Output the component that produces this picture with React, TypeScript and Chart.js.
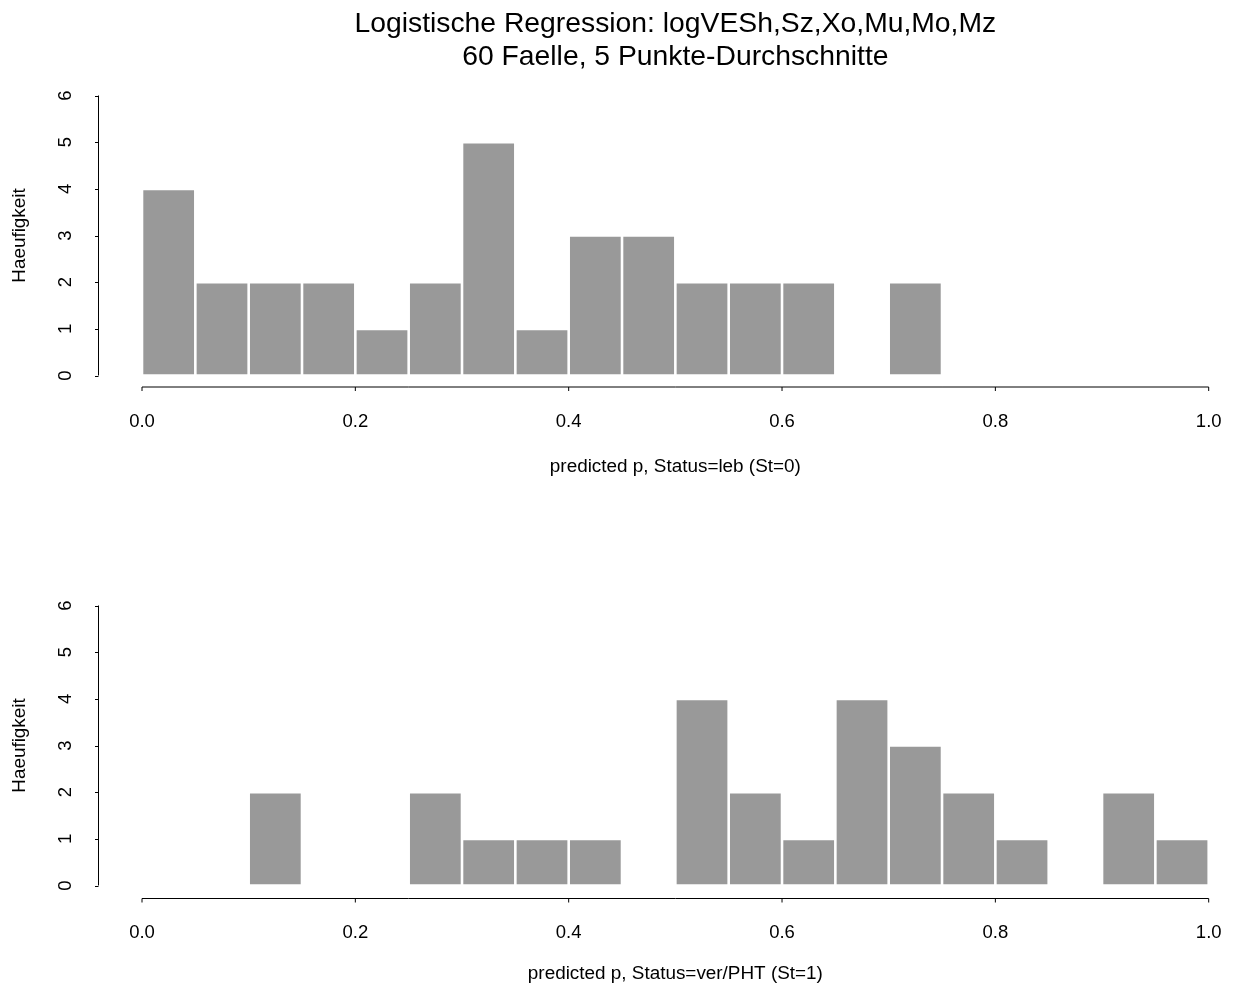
import React, { useEffect, useRef } from 'react';
import { Chart, registerables } from 'chart.js';

Chart.register(...registerables);

const TITLE_LINES = [
  'Logistische Regression: logVESh,Sz,Xo,Mu,Mo,Mz',
  '60 Faelle, 5 Punkte-Durchschnitte',
];
const BREAKS = [
  0.0, 0.05, 0.1, 0.15, 0.2, 0.25, 0.3, 0.35, 0.4, 0.45, 0.5,
  0.55, 0.6, 0.65, 0.7, 0.75, 0.8, 0.85, 0.9, 0.95, 1.0,
];
const COUNTS_ST0 = [4, 2, 2, 2, 1, 2, 5, 1, 3, 3, 2, 2, 2, 0, 2, 0, 0, 0, 0, 0];
const COUNTS_ST1 = [0, 0, 2, 0, 0, 2, 1, 1, 1, 0, 4, 2, 1, 4, 3, 2, 1, 0, 2, 1];
const X_TICKS = [0, 0.2, 0.4, 0.6, 0.8, 1.0];
const Y_TICKS = [0, 1, 2, 3, 4, 5, 6];
const X_LABEL_ST0 = 'predicted p, Status=leb (St=0)';
const X_LABEL_ST1 = 'predicted p, Status=ver/PHT (St=1)';
const Y_LABEL = 'Haeufigkeit';

const FONT = '"Liberation Sans", Arial, Helvetica, sans-serif';
const BAR_FILL = '#999999';

const rAxesPlugin = {
  id: 'rAxes',
  afterDraw(chart: any, _args: any, opts: any) {
    const { ctx, chartArea } = chart;
    const xs = chart.scales.x;
    const ys = chart.scales.y;
    ctx.save();
    ctx.strokeStyle = '#000';
    ctx.lineWidth = 1;
    // x axis (detached, R style)
    const ly = chartArea.bottom + opts.xOffset;
    const xl = xs.getPixelForValue(X_TICKS[0]);
    const xr = xs.getPixelForValue(X_TICKS[X_TICKS.length - 1]);
    ctx.beginPath();
    ctx.moveTo(xl, ly);
    ctx.lineTo(xr, ly);
    X_TICKS.forEach((v) => {
      const px = xs.getPixelForValue(v);
      ctx.moveTo(px, ly);
      ctx.lineTo(px, ly + 4);
    });
    ctx.stroke();
    // y axis
    const lx = opts.yAxisX;
    const yb = ys.getPixelForValue(Y_TICKS[0]);
    const yt = ys.getPixelForValue(Y_TICKS[Y_TICKS.length - 1]);
    ctx.beginPath();
    ctx.moveTo(lx, yb);
    ctx.lineTo(lx, yt);
    Y_TICKS.forEach((v) => {
      const py = Math.round(ys.getPixelForValue(v)) + 0.5;
      ctx.moveTo(lx, py);
      ctx.lineTo(lx - 3.5, py);
    });
    ctx.stroke();
    ctx.restore();
  },
};

type PanelProps = {
  counts: number[];
  xLabel: string;
  top: number;
  height: number;
  withTitle: boolean;
  xOffset: number;
  xTickLine: number;
  xTitlePad: number;
};

function Panel({ counts, xLabel, top, height, withTitle, xOffset, xTickLine, xTitlePad }: PanelProps) {
  const ref = useRef<HTMLCanvasElement | null>(null);

  useEffect(() => {
    if (!ref.current) return;
    const areaBottom = 375.5;
    const chart = new Chart(ref.current, {
      type: 'bar',
      data: {
        datasets: [
          {
            data: counts.map((c, i) => ({ x: (BREAKS[i] + BREAKS[i + 1]) / 2, y: c })),
            backgroundColor: BAR_FILL,
            borderColor: '#ffffff',
            borderWidth: 1.3,
            borderSkipped: false,
            inflateAmount: 0,
            barPercentage: 1,
            categoryPercentage: 1,
          } as any,
        ],
      },
      options: {
        responsive: false,
        animation: false,
        events: [],
        layout: {
          padding: { top: withTitle ? 0 : 95.5, left: 0, right: 31.3, bottom: 0 },
        },
        plugins: {
          legend: { display: false },
          tooltip: { enabled: false },
          title: {
            display: withTitle,
            text: TITLE_LINES,
            fullSize: false,
            color: '#000',
            font: { family: FONT, size: 28.3, weight: 'normal', lineHeight: '33px' },
            padding: { top: 7.5, bottom: 22 },
          },
          rAxes: { xOffset, yAxisX: 98.5 },
        } as any,
        scales: {
          x: {
            type: 'linear',
            min: 0,
            max: 1,
            offset: false,
            grid: { display: false, drawTicks: false },
            border: { display: false },
            afterFit: (s: any) => {
              s.height = height - areaBottom;
            },
            afterBuildTicks: (s: any) => {
              s.ticks = X_TICKS.map((v) => ({ value: v }));
            },
            ticks: {
              color: '#000',
              padding: 0,
              autoSkip: false,
              maxRotation: 0,
              font: { family: FONT, size: 18.5, lineHeight: xTickLine + 'px' },
              callback: (v: any) => Number(v).toFixed(1),
            },
            title: {
              display: true,
              text: xLabel,
              color: '#000',
              font: { family: FONT, size: 18.9, lineHeight: 1.2 },
              padding: { top: 0, bottom: xTitlePad },
            },
          },
          y: {
            type: 'linear',
            min: 0,
            max: 6,
            grid: { display: false, drawTicks: false },
            border: { display: false },
            afterFit: (s: any) => {
              s.width = 142;
            },
            afterBuildTicks: (s: any) => {
              s.ticks = Y_TICKS.map((v) => ({ value: v }));
            },
            ticks: {
              color: '#000',
              padding: 70.8,
              autoSkip: false,
              minRotation: 90,
              maxRotation: 90,
              crossAlign: 'center',
              font: { family: FONT, size: 18.5, lineHeight: 1.2 },
              callback: (v: any) => String(v),
            },
            title: {
              display: true,
              text: Y_LABEL,
              color: '#000',
              font: { family: FONT, size: 18.9, lineHeight: 1.2 },
              padding: { top: 8.7, bottom: 0 },
            },
          },
        },
      } as any,
      plugins: [rAxesPlugin],
    });
    return () => chart.destroy();
  }, [counts, xLabel, height, withTitle, xOffset, xTickLine, xTitlePad]);

  return (
    <canvas
      ref={ref}
      width={1240}
      height={height}
      style={{ position: 'absolute', left: 0, top, width: 1240, height, display: 'block' }}
    />
  );
}

export default function App() {
  return (
    <div style={{ position: 'absolute', left: 0, top: 0, width: 1240, height: 992, background: '#fff' }}>
      <Panel
        counts={COUNTS_ST0}
        xLabel={X_LABEL_ST0}
        top={0}
        height={510}
        withTitle={true}
        xOffset={11.5}
        xTickLine={92}
        xTitlePad={31.7}
      />
      <Panel
        counts={COUNTS_ST1}
        xLabel={X_LABEL_ST1}
        top={510}
        height={482}
        withTitle={false}
        xOffset={13}
        xTickLine={94}
        xTitlePad={6.7}
      />
    </div>
  );
}
